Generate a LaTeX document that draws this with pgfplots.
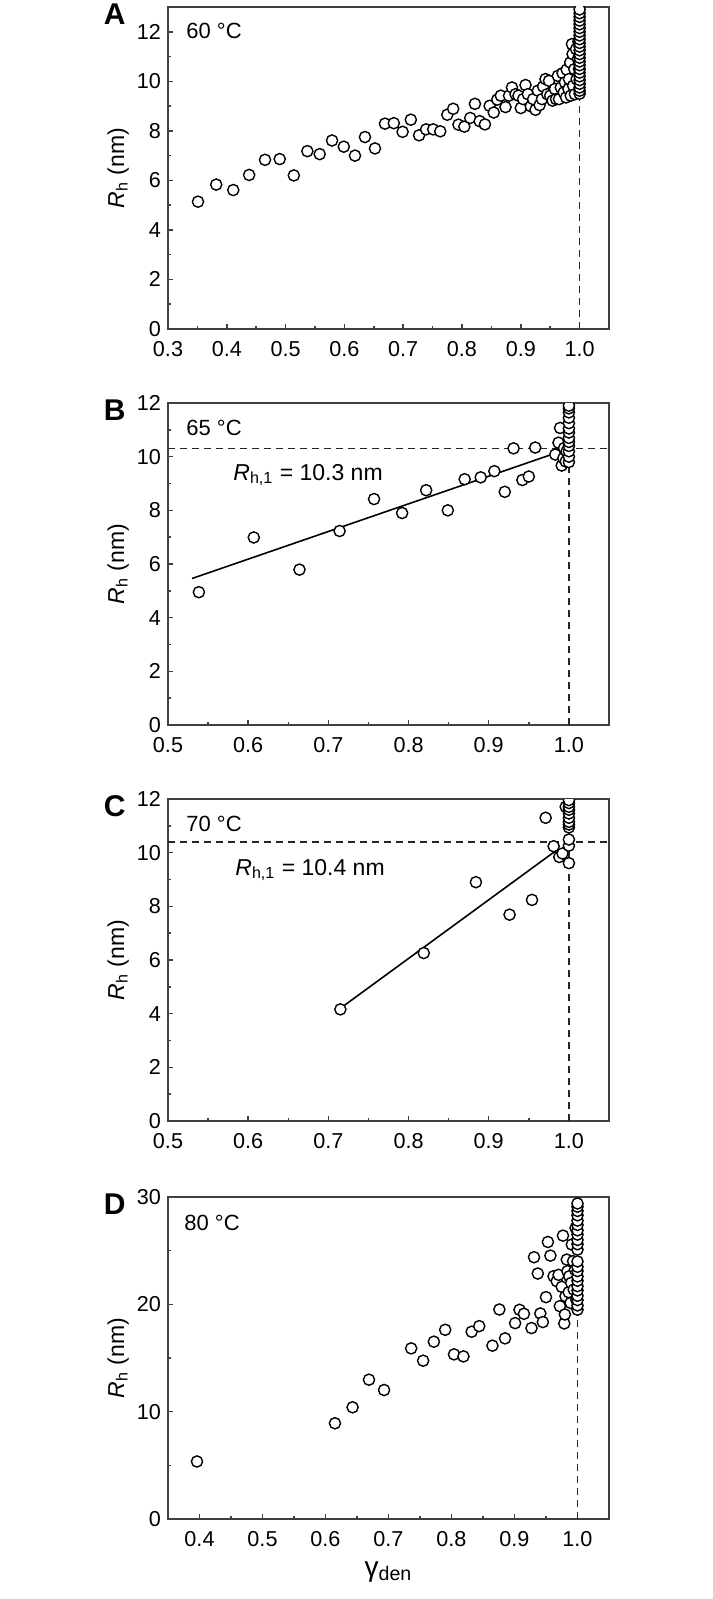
\documentclass[border=0pt]{standalone}
\usepackage{fontspec}
\setmainfont{Liberation Sans}
\usepackage{pgfplots}
\usepackage{pgfplotstable}
\pgfplotsset{compat=1.18}

\pgfplotstableread{
x y
0.351 5.14
0.382 5.83
0.411 5.61
0.438 6.22
0.465 6.83
0.490 6.86
0.514 6.20
0.537 7.18
0.558 7.06
0.579 7.61
0.599 7.36
0.618 7.00
0.635 7.75
0.652 7.29
0.669 8.29
0.684 8.31
0.699 7.96
0.713 8.45
0.727 7.82
0.739 8.06
0.751 8.06
0.763 7.98
0.775 8.65
0.785 8.89
0.794 8.25
0.804 8.17
0.814 8.52
0.822 9.09
0.830 8.39
0.839 8.26
0.847 9.01
0.854 8.74
0.860 9.26
0.866 9.42
0.874 8.96
0.880 9.42
0.885 9.75
0.891 9.48
0.896 9.42
0.900 8.92
0.904 9.28
0.908 9.85
0.912 9.48
0.917 8.99
0.921 9.28
0.925 8.85
0.929 9.62
0.932 9.04
0.936 9.28
0.938 9.79
0.942 10.09
0.945 9.48
0.948 10.02
0.950 9.42
0.954 9.22
0.958 9.69
0.960 9.28
0.963 10.22
0.965 9.28
0.968 9.75
0.971 10.33
0.973 9.55
0.975 9.96
0.977 9.35
0.978 10.47
0.981 9.69
0.982 10.09
0.984 10.76
0.985 9.42
0.987 11.50
0.988 11.10
0.989 9.82
0.991 10.49
0.992 9.48
0.994 11.30
0.995 10.09
0.997 10.90
0.998 11.60
0.999 10.50
1.000 9.50
1.000 9.62
1.000 9.75
1.000 9.90
1.000 10.05
1.000 10.20
1.000 10.35
1.000 10.50
1.000 10.65
1.000 10.80
1.000 10.95
1.000 11.10
1.000 11.25
1.000 11.40
1.000 11.55
1.000 11.70
1.000 11.85
1.000 12.00
1.000 12.15
1.000 12.30
1.000 12.45
1.000 12.60
1.000 12.75
1.000 12.90
}\dataA

\pgfplotstableread{
x y
0.5385 4.95
0.607 6.99
0.664 5.79
0.714 7.23
0.757 8.42
0.792 7.90
0.822 8.75
0.849 8.00
0.870 9.16
0.890 9.23
0.907 9.46
0.920 8.69
0.931 10.31
0.942 9.13
0.950 9.26
0.958 10.34
0.983 10.08
0.987 10.52
0.989 11.07
0.991 9.67
0.993 9.94
0.994 10.32
0.996 9.82
0.997 10.19
1.000 9.80
1.000 10.00
1.000 10.20
1.000 10.40
1.000 10.55
1.000 10.70
1.000 10.90
1.000 11.05
1.000 11.25
1.000 11.45
1.000 11.65
1.000 11.80
1.000 11.90
}\dataB

\pgfplotstableread{
x y
0.715 4.16
0.819 6.26
0.884 8.90
0.926 7.69
0.954 8.24
0.971 11.30
0.981 10.24
0.988 9.84
0.992 9.97
0.996 11.71
1.000 9.61
1.000 10.26
1.000 10.49
1.000 10.94
1.000 11.05
1.000 11.15
1.000 11.30
1.000 11.46
1.000 11.60
1.000 11.71
1.000 11.85
1.000 11.96
}\dataC

\pgfplotstableread{
x y
0.396 5.36
0.615 8.92
0.643 10.41
0.669 12.98
0.693 12.02
0.736 15.90
0.755 14.75
0.772 16.52
0.790 17.63
0.804 15.34
0.819 15.15
0.832 17.45
0.844 17.97
0.865 16.15
0.876 19.52
0.885 16.83
0.901 18.25
0.908 19.49
0.915 19.12
0.927 17.79
0.931 24.39
0.937 22.87
0.941 19.15
0.945 18.35
0.950 20.67
0.953 25.81
0.957 24.54
0.962 22.62
0.967 22.16
0.970 22.75
0.972 19.83
0.975 21.63
0.977 26.40
0.979 18.22
0.980 19.06
0.981 20.76
0.983 24.17
0.984 23.09
0.986 21.13
0.987 22.62
0.989 20.14
0.990 22.00
0.991 25.57
0.993 24.02
0.994 21.38
0.996 23.24
0.997 27.11
0.998 20.45
1.000 19.50
1.000 19.90
1.000 20.40
1.000 20.80
1.000 21.30
1.000 21.70
1.000 22.20
1.000 22.60
1.000 23.10
1.000 23.50
1.000 24.00
1.000 25.10
1.000 25.60
1.000 26.00
1.000 26.50
1.000 26.90
1.000 27.40
1.000 27.80
1.000 28.30
1.000 28.70
1.000 29.10
1.000 29.40
}\dataD

\pgfplotsset{
  panel/.style={
    scale only axis, width=220.5pt, height=161pt,
    anchor=north west,
    clip marker paths=true,
    axis line style={black!75, line width=0.75pt},
    tick style={black!75, line width=0.75pt},
    tick align=inside,
    xtick pos=bottom, ytick pos=left,
    major tick length=2.6pt, minor tick length=1.7pt,
    minor x tick num=1, minor y tick num=1,
    tick label style={font=\fontsize{10.8}{12}\selectfont},
    /pgf/number format/assume math mode=true,
    xticklabel style={/pgf/number format/fixed, /pgf/number format/fixed zerofill, /pgf/number format/precision=1, yshift=-2.5pt},
    every axis y label/.style={at={([xshift=-22pt]axis description cs:0,0.5)}, rotate=90, anchor=base, font=\fontsize{11.5}{13}\selectfont},
    ylabel={\textit{R}\textsubscript{h} (nm)},
  },
  dots/.style={only marks, mark=*, mark size=2.8pt, mark options={fill=white, draw=black, line width=0.7pt}},
  dashln/.style={black!85, line width=0.7pt, dash pattern=on 3.5pt off 2.5pt},
  fitln/.style={black, line width=0.8pt},
}
\tikzset{
  temp/.style={anchor=base west, inner sep=0pt, font=\fontsize{11}{13}\selectfont},
  letter/.style={anchor=north east, inner sep=0pt, font=\bfseries\fontsize{15}{15}\selectfont},
  rlab/.style={anchor=base west, inner sep=0pt, font=\fontsize{11.5}{13}\selectfont},
}

\begin{document}
\begin{tikzpicture}
\useasboundingbox (0,0) rectangle (356pt,-799.5pt);

% Panel A
\begin{axis}[panel, name=pA, at={(84pt,-3.5pt)},
  xmin=0.3, xmax=1.05, ymin=0, ymax=13,
  xtick={0.3,0.4,0.5,0.6,0.7,0.8,0.9,1.0}, ytick={0,2,4,6,8,10,12}]
\addplot[dashln] coordinates {(1,0) (1,13)};
\addplot[dots] table[x=x,y=y] {\dataA};
\node[temp] at ([xshift=9pt,yshift=-16pt]axis description cs:0,1) {60 °C};
\end{axis}
\node[letter] at ([xshift=-21pt,yshift=2pt]pA.north west) {A};

% Panel B
\begin{axis}[panel, name=pB, at={(84pt,-201.5pt)},
  xmin=0.5, xmax=1.05, ymin=0, ymax=12,
  xtick={0.5,0.6,0.7,0.8,0.9,1.0}, ytick={0,2,4,6,8,10,12}]
\addplot[dashln] coordinates {(1,0) (1,12)};
\addplot[dashln] coordinates {(0.5,10.3) (1.05,10.3)};
\addplot[fitln] coordinates {(0.53,5.46) (0.99,10.2)};
\addplot[dots] table[x=x,y=y] {\dataB};
\node[temp] at ([xshift=9pt,yshift=-16pt]axis description cs:0,1) {65 °C};
\node[rlab] at ([xshift=32.5pt,yshift=-38.5pt]axis description cs:0,1) {\textit{R}\textsubscript{h,1} = 10.3 nm};
\end{axis}
\node[letter] at ([xshift=-21pt,yshift=2pt]pB.north west) {B};

% Panel C
\begin{axis}[panel, name=pC, at={(84pt,-399.5pt)},
  xmin=0.5, xmax=1.05, ymin=0, ymax=12,
  xtick={0.5,0.6,0.7,0.8,0.9,1.0}, ytick={0,2,4,6,8,10,12}]
\addplot[dashln] coordinates {(1,0) (1,12)};
\addplot[dashln] coordinates {(0.5,10.4) (1.05,10.4)};
\addplot[fitln] coordinates {(0.715,4.2) (0.985,10.1)};
\addplot[dots] table[x=x,y=y] {\dataC};
\node[temp] at ([xshift=9pt,yshift=-16pt]axis description cs:0,1) {70 °C};
\node[rlab] at ([xshift=33.5pt,yshift=-38pt]axis description cs:0,1) {\textit{R}\textsubscript{h,1} = 10.4 nm};
\end{axis}
\node[letter] at ([xshift=-21pt,yshift=2pt]pC.north west) {C};

% Panel D
\begin{axis}[panel, name=pD, at={(84pt,-598.5pt)},
  xmin=0.35, xmax=1.05, ymin=0, ymax=30,
  xtick={0.4,0.5,0.6,0.7,0.8,0.9,1.0}, ytick={0,10,20,30},
  every axis x label/.style={at={([yshift=-28.5pt]axis description cs:0.5,0)}, anchor=base, font=\fontsize{14}{16}\selectfont},
  xlabel={γ\textsubscript{den}}]
\addplot[dashln] coordinates {(1,0) (1,30)};
\addplot[dots] table[x=x,y=y] {\dataD};
\node[temp] at ([xshift=8pt,yshift=-16.5pt]axis description cs:0,1) {80 °C};
\end{axis}
\node[letter] at ([xshift=-21pt,yshift=2pt]pD.north west) {D};
\end{tikzpicture}
\end{document}
